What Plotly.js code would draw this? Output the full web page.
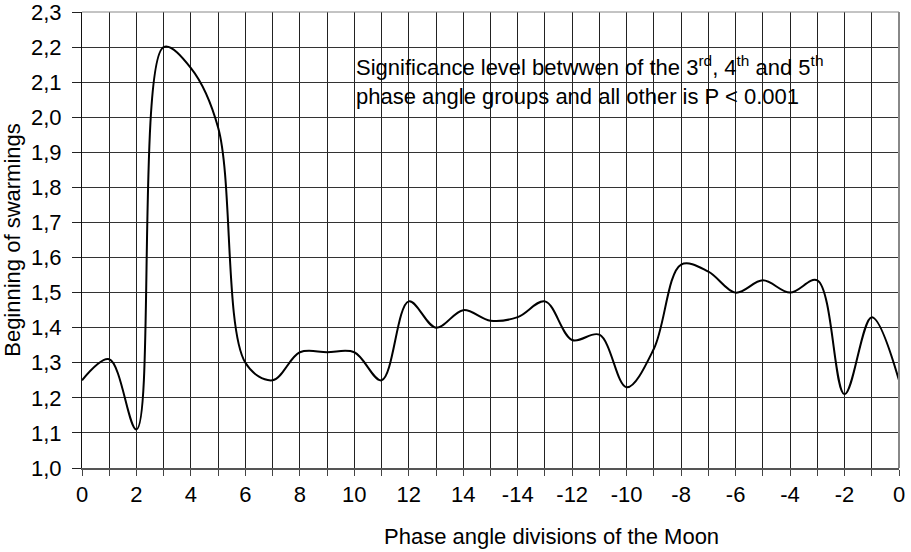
<!DOCTYPE html>
<html>
<head>
<meta charset="utf-8">
<script src="https://cdn.plot.ly/plotly-3.0.1.min.js"></script>
<style>
  html, body { margin: 0; padding: 0; background: #fff; }
  #chart { width: 911px; height: 552px; }
</style>
</head>
<body>
<div id="chart"></div>
<script>
// Phase angle divisions of the Moon (category labels, in order of the x axis)
const phaseLabels = ['0','1','2','3','4','5','6','7','8','9','10','11','12','13','14','15',
                     '-14','-13','-12','-11','-10','-9','-8','-7','-6','-5','-4','-3','-2','-1','0'];
// Beginning of swarmings
const swarmings = [1.25, 1.31, 1.11, 2.20, 2.14, 1.97, 1.30, 1.25, 1.33, 1.33, 1.33, 1.25, 1.475, 1.40, 1.45, 1.42,
                   1.43, 1.475, 1.365, 1.38, 1.23, 1.34, 1.58, 1.56, 1.50, 1.535, 1.50, 1.535, 1.21, 1.43, 1.25];
// Y axis ticks and their labels (decimal comma, as in the original)
const yTickVals = [1.0, 1.1, 1.2, 1.3, 1.4, 1.5, 1.6, 1.7, 1.8, 1.9, 2.0, 2.1, 2.2, 2.3];
const yTickText = ['1,0', '1,1', '1,2', '1,3', '1,4', '1,5', '1,6', '1,7', '1,8', '1,9', '2,0', '2,1', '2,2', '2,3'];

const xTitle = 'Phase angle divisions of the Moon';
const yTitle = 'Beginning of swarmings';
const noteText = 'Significance level betwwen of the 3<sup>rd</sup>, 4<sup>th</sup> and 5<sup>th</sup><br>phase angle groups and all other is P &lt; 0.001';

const positions = phaseLabels.map((_, i) => i);
const majorVals = positions.filter(i => i % 2 === 0);
const majorText = majorVals.map(i => phaseLabels[i]);

const FONT = 'Arial, "Liberation Sans", sans-serif';
const FS = 22;

const trace = {
  x: positions,
  y: swarmings,
  type: 'scatter',
  mode: 'lines',
  line: { color: '#000', width: 2, shape: 'spline', smoothing: 1 },
  hoverinfo: 'x+y'
};

const layout = {
  width: 911,
  height: 552,
  margin: { l: 82, r: 12, t: 12, b: 84 },
  paper_bgcolor: '#fff',
  plot_bgcolor: '#fff',
  separators: ', ',
  showlegend: false,
  font: { family: FONT, size: FS, color: '#000' },
  xaxis: {
    range: [0, 30],
    tickmode: 'array',
    tickvals: majorVals,
    ticktext: majorText,
    ticks: 'outside',
    ticklen: 6,
    tickcolor: '#444',
    tickwidth: 1,
    showgrid: true,
    gridcolor: '#222',
    gridwidth: 1,
    minor: {
      tickmode: 'linear', tick0: 0, dtick: 1,
      ticks: 'outside', ticklen: 6, tickcolor: '#444', tickwidth: 1,
      showgrid: true, gridcolor: '#222', gridwidth: 1
    },
    showline: true,
    linecolor: '#555',
    linewidth: 2,
    zeroline: false,
    ticklabeloverflow: 'allow',
    tickfont: { family: FONT, size: FS, color: '#000' },
    fixedrange: true
  },
  yaxis: {
    range: [1.0, 2.3],
    tickmode: 'array',
    tickvals: yTickVals,
    ticktext: yTickText,
    ticks: 'outside',
    ticklen: 9,
    tickcolor: '#222',
    tickwidth: 1,
    ticklabelstandoff: 6,
    ticklabeloverflow: 'allow',
    showgrid: true,
    gridcolor: '#333',
    gridwidth: 1,
    showline: true,
    linecolor: '#111',
    linewidth: 1,
    zeroline: false,
    tickfont: { family: FONT, size: FS, color: '#000' },
    title: { text: yTitle, font: { family: FONT, size: FS, color: '#000' }, standoff: 10 },
    fixedrange: true
  },
  shapes: [
    { type: 'line', xref: 'paper', yref: 'paper', x0: 0, x1: 1, y0: 1, y1: 1,
      line: { color: '#888', width: 1 } },
    { type: 'line', xref: 'paper', yref: 'paper', x0: 1, x1: 1, y0: 0, y1: 1,
      line: { color: '#888', width: 2 } }
  ],
  annotations: [
    {
      xref: 'paper', yref: 'paper',
      x: (354 - 82) / 817, y: (467.7 - 50) / 456,
      xanchor: 'left', yanchor: 'top',
      align: 'left',
      showarrow: false,
      text: noteText,
      font: { family: FONT, size: FS, color: '#000' }
    },
    {
      xref: 'paper', yref: 'paper',
      x: (551 - 82) / 817, y: -(536 - 467.7) / 456,
      xanchor: 'center', yanchor: 'middle',
      showarrow: false,
      text: xTitle,
      font: { family: FONT, size: FS, color: '#000' }
    }
  ]
};

Plotly.newPlot('chart', [trace], layout, { displayModeBar: false, staticPlot: true });
</script>
</body>
</html>
